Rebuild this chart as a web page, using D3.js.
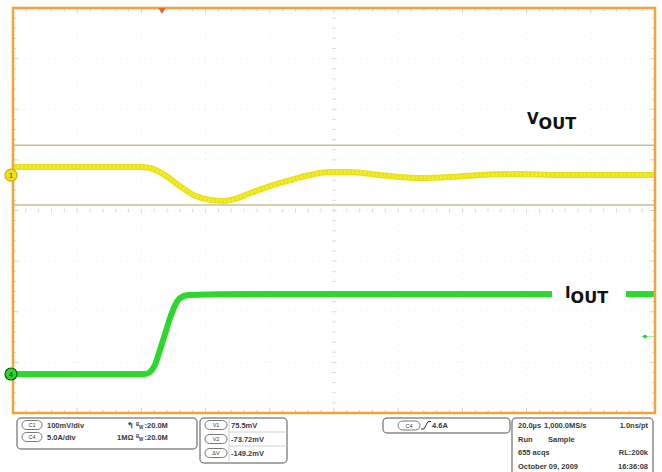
<!DOCTYPE html>
<html>
<head>
<meta charset="utf-8">
<script src="https://cdn.jsdelivr.net/npm/d3@7"></script>
<style>
  body { margin: 0; background: #fff; }
  text { font-family: "Liberation Sans", Arial, sans-serif; }
</style>
</head>
<body>
<div id="scope"></div>
<script>
// screen divisions
const hDivs = 10, vDivs = 8;
const timePerDiv = 20;           // µs/div
const triggerTime = 46.4;        // µs from left edge

// channel 1 (VOUT), mV relative to its ground marker
const ch1Time = [0, 20, 39.6, 42.7, 47.3, 52, 56.7, 61.4, 66, 69.2, 73.8, 80, 86.3, 92.5, 98.7, 105, 114.3, 126.8, 136.1, 145.5, 157.9, 170.4, 182.9, 200];
const ch1Mv   = [16, 16, 16, 14, 0, -22, -41, -49, -51, -47, -36, -22, -10, 0, 6, 6, 0, -6, -4, 0, 2, 0, 0, 0];

// channel 4 (IOUT), amps relative to its ground marker
const ch4Time = [0, 20, 41.1, 42.7, 44.2, 45.8, 47.3, 48.9, 50.5, 52, 54.5, 73.8, 120, 200];
const ch4Amp  = [0, 0, 0, 0.2, 0.9, 2.4, 3.9, 5.5, 6.8, 7.5, 7.8, 7.9, 7.9, 7.9];

const ch1Pos = 0.70, ch1Scale = 100;   // div offset, mV/div
const ch4Pos = -3.23, ch4Scale = 5;    // div offset, A/div
const cursorMv = [59, -59];
const ch4TrigLevel = 3.7;

// readouts
const chanRows = [
  {pill: "C1", scale: "100mV/div", imp: "\u21B0", bw: "20.0M"},
  {pill: "C4", scale: "5.0A/div", imp: "1M\u03A9", bw: "20.0M"}
];
const cursorRows = [
  {pill: "V1", val: "75.5mV"},
  {pill: "V2", val: "-73.72mV"},
  {pill: "\u0394V", val: "-149.2mV"}
];
const trigText = "4.6A";
const acqRows = [
  ["20.0\u00B5s", "1,000.0MS/s", "1.0ns/pt"],
  ["Run", "Sample", ""],
  ["655 acqs", "", "RL:200k"],
  ["October 09, 2009", "", "16:36:08"]
];

const W = 662, H = 472;
const plot = {left: 13, right: 655, top: 8, bottom: 413};

const svg = d3.select("#scope").append("svg")
  .attr("width", W).attr("height", H);

svg.append("rect").attr("width", W).attr("height", H).attr("fill", "#fff");

const x = d3.scaleLinear().domain([0, hDivs * timePerDiv]).range([plot.left, plot.right]);
const y = d3.scaleLinear().domain([-vDivs / 2, vDivs / 2]).range([plot.bottom, plot.top]);

// grid
const g = svg.append("g");
const xMajor = d3.range(1, hDivs).map(d => d * timePerDiv);
const yMajor = d3.range(-vDivs / 2 + 1, vDivs / 2);
g.selectAll(".vgrid").data(xMajor).join("line")
  .attr("x1", d => x(d)).attr("x2", d => x(d))
  .attr("y1", plot.top).attr("y2", plot.bottom)
  .attr("stroke", "#ebebeb").attr("stroke-dasharray", "1,5");
g.selectAll(".hgrid").data(yMajor).join("line")
  .attr("y1", d => y(d)).attr("y2", d => y(d))
  .attr("x1", plot.left).attr("x2", plot.right)
  .attr("stroke", "#ebebeb").attr("stroke-dasharray", "1,5");

// minor ticks on centre lines
const xMinor = d3.range(0, hDivs * 5 + 1).map(d => d * timePerDiv / 5);
const yMinor = d3.range(-vDivs * 5 / 2, vDivs * 5 / 2 + 1).map(d => d / 5);
g.selectAll(".cx").data(xMinor).join("line")
  .attr("x1", d => x(d)).attr("x2", d => x(d))
  .attr("y1", y(0) - 2).attr("y2", y(0) + 2)
  .attr("stroke", "#dcdcdc");
g.selectAll(".cy").data(yMinor).join("line")
  .attr("y1", d => y(d)).attr("y2", d => y(d))
  .attr("x1", x(100) - 2).attr("x2", x(100) + 2)
  .attr("stroke", "#dcdcdc");

// edge ticks
const edge = svg.append("g").attr("stroke", "#dfd3bb");
edge.selectAll(".et").data(xMinor).join("line")
  .attr("x1", d => x(d)).attr("x2", d => x(d))
  .attr("y1", plot.top).attr("y2", (d, i) => plot.top + (i % 5 === 0 ? 5 : 3));
edge.selectAll(".eb").data(xMinor).join("line")
  .attr("x1", d => x(d)).attr("x2", d => x(d))
  .attr("y1", plot.bottom).attr("y2", (d, i) => plot.bottom - (i % 5 === 0 ? 5 : 3));
edge.selectAll(".el").data(yMinor).join("line")
  .attr("y1", d => y(d)).attr("y2", d => y(d))
  .attr("x1", plot.left).attr("x2", (d, i) => plot.left + (i % 5 === 0 ? 5 : 3));
edge.selectAll(".er").data(yMinor).join("line")
  .attr("y1", d => y(d)).attr("y2", d => y(d))
  .attr("x1", plot.right).attr("x2", (d, i) => plot.right - (i % 5 === 0 ? 5 : 3));

// cursors
svg.selectAll(".cursor").data(cursorMv).join("line")
  .attr("x1", plot.left).attr("x2", plot.right)
  .attr("y1", d => y(ch1Pos + d / ch1Scale)).attr("y2", d => y(ch1Pos + d / ch1Scale))
  .attr("stroke", "#cbbf8f").attr("stroke-width", 1.5);

// traces
const ch1 = ch1Time.map((t, i) => [x(t), y(ch1Pos + ch1Mv[i] / ch1Scale)]);
const ch4 = ch4Time.map((t, i) => [x(t), y(ch4Pos + ch4Amp[i] / ch4Scale)]);
const line = d3.line().curve(d3.curveMonotoneX);

svg.append("path").attr("d", line(ch1)).attr("fill", "none")
  .attr("stroke", "#e9e21a").attr("stroke-width", 6).attr("stroke-linejoin", "round");
svg.append("path").attr("d", line(ch1)).attr("fill", "none")
  .attr("stroke", "#f4ee30").attr("stroke-width", 3).attr("stroke-dasharray", "2,2");
svg.append("path").attr("d", line(ch4)).attr("fill", "none")
  .attr("stroke", "#2bd82b").attr("stroke-width", 6).attr("stroke-linejoin", "round");

// ch4 trigger level marker
svg.append("line")
  .attr("x1", plot.right - 14).attr("x2", plot.right)
  .attr("y1", y(ch4Pos + ch4TrigLevel / ch4Scale)).attr("y2", y(ch4Pos + ch4TrigLevel / ch4Scale))
  .attr("stroke", "#9be89b").attr("stroke-width", 1);
svg.append("circle")
  .attr("cx", plot.right - 10).attr("cy", y(ch4Pos + ch4TrigLevel / ch4Scale)).attr("r", 1.8)
  .attr("fill", "#22cc22");

// labels
const labels = [
  {main: "V", sub: "OUT", x: 527, y: 124, bx: 520, by: 106, bw: 66, bh: 26},
  {main: "I", sub: "OUT", x: 565, y: 298, bx: 552, by: 283, bw: 74, bh: 24}
];
labels.forEach(l => {
  svg.append("rect").attr("x", l.bx).attr("y", l.by).attr("width", l.bw).attr("height", l.bh).attr("fill", "#fff");
  const t = svg.append("text").attr("x", l.x).attr("y", l.y)
    .style("font-family", "'DejaVu Sans', sans-serif").style("font-weight", "bold")
    .style("font-size", "15px").attr("fill", "#111");
  t.append("tspan").text(l.main);
  t.append("tspan").attr("dy", 5).style("font-size", "16px").text(l.sub);
});

// frame
svg.append("rect")
  .attr("x", plot.left).attr("y", plot.top)
  .attr("width", plot.right - plot.left).attr("height", plot.bottom - plot.top)
  .attr("fill", "none").attr("stroke", "#f2a43a").attr("stroke-width", 2.5);

// trigger position marker
svg.append("path")
  .attr("d", d3.symbol(d3.symbolTriangle, 22)())
  .attr("transform", `translate(${x(triggerTime)},${plot.top + 2}) rotate(180)`)
  .attr("fill", "#f0602a");

// channel markers
const markers = [
  {n: "1", cy: y(ch1Pos), fill: "#eee21c", stroke: "#c9b000", tx: "#7a6a00"},
  {n: "4", cy: y(ch4Pos), fill: "#2fd42f", stroke: "#0b5e0b", tx: "#0b3d0b"}
];
markers.forEach(m => {
  svg.append("circle").attr("cx", 11).attr("cy", m.cy).attr("r", 6)
    .attr("fill", m.fill).attr("stroke", m.stroke).attr("stroke-width", 1.2);
  svg.append("text").attr("x", 11).attr("y", m.cy + 2.5).attr("text-anchor", "middle")
    .style("font-size", "7px").style("font-weight", "bold").attr("fill", m.tx).text(m.n);
});

// readout panels
const panel = svg.append("g").style("font-size", "7.5px").style("font-weight", "bold").attr("fill", "#3a3a3a");

function box(x0, y0, w, h) {
  panel.append("rect").attr("x", x0).attr("y", y0).attr("width", w).attr("height", h)
    .attr("rx", 4).attr("fill", "#fff").attr("stroke", "#8c8c8c").attr("stroke-width", 1.5);
}
function pill(cx, cy, label, w) {
  panel.append("rect").attr("x", cx - w / 2).attr("y", cy - 4.5).attr("width", w).attr("height", 9)
    .attr("rx", 4.5).attr("fill", "#fff").attr("stroke", "#777").attr("stroke-width", 1);
  panel.append("text").attr("x", cx).attr("y", cy + 2.2).attr("text-anchor", "middle")
    .style("font-size", "5.5px").style("font-weight", "normal").text(label);
}

box(17, 418, 180, 31);
chanRows.forEach((r, i) => {
  const cy = 425 + i * 12;
  pill(32, cy, r.pill, 20);
  panel.append("text").attr("x", 47).attr("y", cy + 2.7).text(r.scale);
  panel.append("text").attr("x", i === 0 ? 127 : 117).attr("y", cy + 2.7).text(r.imp);
  panel.append("text").attr("x", 136).attr("y", cy + 0.5).style("font-size", "4.5px").text("B");
  panel.append("text").attr("x", 139).attr("y", cy + 3.8).style("font-size", "4.5px").text("W");
  panel.append("text").attr("x", 144.5).attr("y", cy + 2.7).text(":" + r.bw);
});

box(200, 418, 87, 45);
cursorRows.forEach((r, i) => {
  const cy = 425 + i * 14;
  pill(216, cy, r.pill, 22);
  panel.append("text").attr("x", 231).attr("y", cy + 2.7).text(r.val);
  if (i > 0) panel.append("line").attr("x1", 229).attr("x2", 287).attr("y1", cy - 7).attr("y2", cy - 7)
    .attr("stroke", "#d0d0d0");
});
panel.append("line").attr("x1", 229).attr("x2", 229).attr("y1", 418).attr("y2", 463).attr("stroke", "#d0d0d0");

box(383, 418, 127, 15);
pill(409, 425.5, "C4", 22);
panel.append("path").attr("d", "M421,429 L424,429 L428,421.5 L431,421.5")
  .attr("fill", "none").attr("stroke", "#3a3a3a").attr("stroke-width", 1);
panel.append("text").attr("x", 432).attr("y", 428.2).text(trigText);

box(512, 418, 141, 60);
acqRows.forEach((r, i) => {
  const ty = 428 + i * 13.7;
  if (r[0]) panel.append("text").attr("x", 518).attr("y", ty).text(r[0]);
  if (r[1]) panel.append("text").attr("x", i === 0 ? 544 : 548).attr("y", ty).text(r[1]);
  if (r[2]) panel.append("text").attr("x", 648).attr("y", ty).attr("text-anchor", "end").text(r[2]);
});
</script>
</body>
</html>
